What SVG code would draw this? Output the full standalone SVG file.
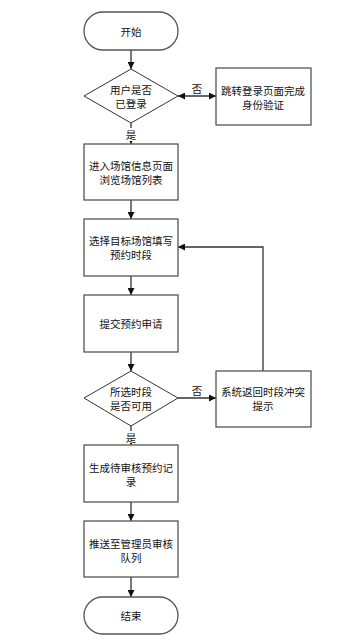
<svg xmlns="http://www.w3.org/2000/svg" width="344" height="642" viewBox="0 0 344 642">
<style>
.s{fill:#fff;stroke:#555;stroke-width:1.3}
.d{fill:#fff;stroke:#333;stroke-width:1}
.c{fill:none;stroke:#333;stroke-width:1.3}
text{font-family:"Noto Sans CJK SC","Liberation Sans",sans-serif;font-size:10.5px;fill:#111;text-anchor:middle;dominant-baseline:central}
</style>
<defs>
<marker id="a" viewBox="0 0 10 10" refX="10" refY="5" markerWidth="7" markerHeight="7" markerUnits="userSpaceOnUse" orient="auto-start-reverse">
<path d="M0,0L10,5L0,10z" fill="#111"/>
</marker>
</defs>
<rect width="344" height="642" fill="#fff"/>
<g id="connectors">
<line class="c" x1="131" y1="50" x2="131" y2="69" marker-end="url(#a)"/>
<line class="c" x1="131" y1="123" x2="131" y2="144" marker-end="url(#a)"/>
<line class="c" x1="178" y1="96" x2="216" y2="96" marker-start="url(#a)" marker-end="url(#a)"/>
<line class="c" x1="131" y1="200" x2="131" y2="219" marker-end="url(#a)"/>
<line class="c" x1="131" y1="276" x2="131" y2="295" marker-end="url(#a)"/>
<line class="c" x1="131" y1="352" x2="131" y2="371" marker-end="url(#a)"/>
<line class="c" x1="178" y1="398" x2="216" y2="398" marker-end="url(#a)"/>
<polyline class="c" points="263,371 263,247 178,247" marker-end="url(#a)"/>
<line class="c" x1="131" y1="426" x2="131" y2="445" marker-end="url(#a)"/>
<line class="c" x1="131" y1="502" x2="131" y2="521" marker-end="url(#a)"/>
<line class="c" x1="131" y1="577" x2="131" y2="597" marker-end="url(#a)"/>
<rect x="125" y="128" width="12" height="13" fill="#fff"/>
<text x="131" y="134">是</text>
<text x="197" y="88">否</text>
<text x="197" y="390">否</text>
<rect x="125" y="431" width="12" height="12" fill="#fff"/>
<text x="131" y="437">是</text>
</g>
<g id="start"><rect class="s" x="84" y="12" width="94" height="38" rx="19"/><text x="131" y="31">开始</text></g>
<g id="check-login"><polygon class="d" points="131,69 178,96 131,123 84,96"/><text x="131" y="89">用户是否</text><text x="131" y="103">已登录</text></g>
<g id="login"><rect class="s" x="216" y="68" width="95" height="57"/><text x="263" y="90">跳转登录页面完成</text><text x="263" y="104">身份验证</text></g>
<g id="browse"><rect class="s" x="84" y="144" width="94" height="56"/><text x="131" y="165">进入场馆信息页面</text><text x="131" y="179.5">浏览场馆列表</text></g>
<g id="select"><rect class="s" x="84" y="219" width="94" height="57"/><text x="131" y="240">选择目标场馆填写</text><text x="131" y="254">预约时段</text></g>
<g id="submit"><rect class="s" x="84" y="295" width="94" height="57"/><text x="131" y="323">提交预约申请</text></g>
<g id="check-slot"><polygon class="d" points="131,371 178,398 131,426 84,398"/><text x="131" y="391.5">所选时段</text><text x="131" y="405.5">是否可用</text></g>
<g id="conflict"><rect class="s" x="216" y="371" width="95" height="56"/><text x="263" y="391">系统返回时段冲突</text><text x="263" y="405">提示</text></g>
<g id="record"><rect class="s" x="84" y="445" width="94" height="57"/><text x="131" y="467">生成待审核预约记</text><text x="131" y="481">录</text></g>
<g id="push"><rect class="s" x="84" y="521" width="94" height="56"/><text x="131" y="543">推送至管理员审核</text><text x="131" y="557">队列</text></g>
<g id="end"><rect class="s" x="84" y="597" width="94" height="37" rx="18.5"/><text x="131" y="615.5">结束</text></g>
</svg>
